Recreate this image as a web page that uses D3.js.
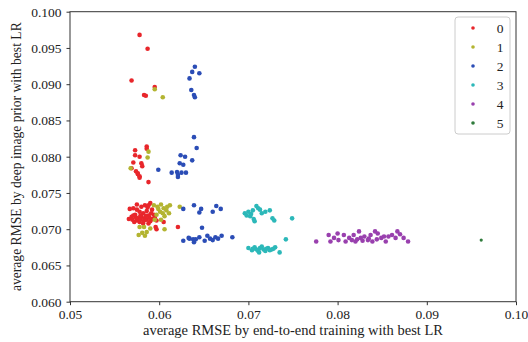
<!DOCTYPE html>
<html>
<head>
<meta charset="utf-8">
<script src="https://cdn.jsdelivr.net/npm/d3@7"></script>
<style>
  body { margin: 0; background: #fff; font-family: 'Liberation Serif', serif; }
  svg { display: block; }
</style>
</head>
<body>
<div id="chart"></div>
<script>
// scatter: RMSE deep image prior vs end-to-end

var xTicks = [0.05, 0.06, 0.07, 0.08, 0.09, 0.10];
var yTicks = [0.060, 0.065, 0.070, 0.075, 0.080, 0.085, 0.090, 0.095, 0.100];
var labels = ["0", "1", "2", "3", "4", "5"];
var colors = ["#e8262b", "#b3b431", "#2b4db6", "#2cb8b9", "#9940ae", "#2f7b3c"];

// group 0
var x0 = [0.0578,0.0587,0.0569,0.0595,0.0583,0.0585,
  0.0586,0.0586,0.0573,0.0573,0.0578,0.0571,0.0580,0.0581,0.0569,0.0574,0.0576,0.0578,0.0576,0.0578,0.0588,
  0.0571,0.0575,0.0580,0.0584,0.0587,0.0590,0.0592,0.0569,0.0573,0.0577,0.0580,0.0584,0.0588,0.0592,0.0595,0.0572,0.0578,0.0582,0.0588,0.0597,
  0.0566,0.0570,0.0575,0.0579,0.0583,0.0586,0.0590,0.0594,0.0582,0.0586,0.0578,0.0574,0.0589,0.0591,0.0567,0.0575,0.0588,0.0597,0.0605,0.0596,0.0621,0.0579,0.0585,0.0571];
var y0 = [0.0968,0.0949,0.0905,0.0896,0.0885,0.0884,
  0.0814,0.0811,0.0809,0.0802,0.0800,0.0792,0.0791,0.0787,0.0784,0.0780,0.0777,0.0773,0.0776,0.0771,0.0765,
  0.0729,0.0727,0.0731,0.0733,0.0730,0.0736,0.0727,0.0717,0.0720,0.0715,0.0717,0.0715,0.0719,0.0714,0.0716,0.0710,0.0710,0.0708,0.0708,0.0700,
  0.0714,0.0713,0.0712,0.0713,0.0712,0.0713,0.0711,0.0720,0.0722,0.0725,0.0724,0.0716,0.0716,0.0722,0.0728,0.0734,0.0733,0.0712,0.0710,0.0703,0.0703,0.0719,0.0718,0.0719];

// group 1
var x1 = [0.0595,0.0604,0.0588,0.0587,0.0568,
  0.0594,0.0598,0.0602,0.0605,0.0601,0.0604,0.0597,0.0606,0.0602,0.0609,0.0612,0.0608,0.0623,0.0595,
  0.0578,0.0583,0.0581,0.0586,0.0590,0.0606,0.0577,0.0584,0.0599,0.0611];
var y1 = [0.0893,0.0882,0.0807,0.0799,0.0784,
  0.0733,0.0731,0.0734,0.0729,0.0724,0.0722,0.0720,0.0718,0.0713,0.0731,0.0733,0.0726,0.0731,0.0713,
  0.0703,0.0703,0.0695,0.0696,0.0701,0.0700,0.0692,0.0691,0.0728,0.0722];

// group 2
var x2 = [0.0640,0.0637,0.0645,0.0634,0.0636,0.0639,0.0640,
  0.0639,0.0642,0.0624,0.0629,0.0637,0.0623,0.0627,0.0599,0.0614,0.0620,0.0625,0.0630,0.0621,0.0621,
  0.0627,0.0639,0.0647,0.0645,0.0664,0.0669,0.0660,0.0648,
  0.0627,0.0634,0.0638,0.0639,0.0641,0.0651,0.0654,0.0657,0.0660,0.0663,0.0666,0.0670,0.0682,0.0633,0.0645];
var y2 = [0.0924,0.0917,0.0915,0.0908,0.0892,0.0885,0.0882,
  0.0827,0.0812,0.0802,0.0800,0.0795,0.0791,0.0789,0.0782,0.0778,0.0779,0.0778,0.0778,0.0772,0.0775,
  0.0728,0.0733,0.0728,0.0723,0.0732,0.0728,0.0724,0.0702,
  0.0684,0.0687,0.0686,0.0682,0.0686,0.0684,0.0691,0.0687,0.0685,0.0689,0.0687,0.0691,0.0689,0.0688,0.0689];

// group 3
var x3 = [0.0696,0.0700,0.0702,0.0705,0.0706,0.0709,0.0713,0.0715,0.0719,0.0724,0.0727,0.0729,0.0749,0.0698,0.0703,0.0711,0.0707,
  0.0700,0.0704,0.0707,0.0711,0.0713,0.0717,0.0719,0.0722,0.0726,0.0730,0.0735,0.0742,0.0709,0.0715,0.0720,0.0724,0.0728,0.0705,0.0712];
var y3 = [0.0722,0.0724,0.0718,0.0726,0.0714,0.0732,0.0727,0.0722,0.0724,0.0726,0.0715,0.0712,0.0715,0.0719,0.0721,0.0729,0.0711,
  0.0674,0.0671,0.0675,0.0670,0.0674,0.0672,0.0670,0.0674,0.0672,0.0675,0.0668,0.0686,0.0672,0.0676,0.0673,0.0671,0.0673,0.0673,0.0668];

// group 4
var x4 = [0.0776,0.0790,0.0792,0.0796,0.0800,0.0801,0.0807,0.0809,0.0813,0.0818,0.0820,0.0824,0.0826,0.0830,0.0834,0.0837,0.0839,
  0.0842,0.0845,0.0849,0.0854,0.0857,0.0861,0.0867,0.0874,0.0879,0.0835,0.0822,0.0844,0.0816,0.0852,0.0828,0.0865,0.0870];
var y4 = [0.0683,0.0692,0.0683,0.0688,0.0694,0.0685,0.0692,0.0683,0.0688,0.0692,0.0683,0.0697,0.0688,0.0690,0.0685,0.0692,0.0683,
  0.0697,0.0694,0.0688,0.0683,0.0690,0.0692,0.0697,0.0688,0.0683,0.0687,0.0686,0.0686,0.0685,0.0690,0.0684,0.0688,0.0693];

// group 5
var x5 = [0.0961];
var y5 = [0.0685];

var xs = [x0, x1, x2, x3, x4, x5];
var ys = [y0, y1, y2, y3, y4, y5];

var width = 528, height = 342;
var margin = {left: 70, right: 12, top: 11.7, bottom: 40.3};
var font = "'Liberation Serif', serif";
var fontSize = "13.5px";

var svg = d3.select("#chart").append("svg")
  .attr("width", width)
  .attr("height", height)
  .attr("font-family", font);

var x = d3.scaleLinear().domain([0.05, 0.10]).range([margin.left, width - margin.right]);
var y = d3.scaleLinear().domain([0.06, 0.10]).range([height - margin.bottom, margin.top]);

// points
xs.forEach(function (arr, k) {
  var pts = arr.map(function (v, i) { return [v, ys[k][i]]; });
  svg.append("g").selectAll("circle").data(pts).enter().append("circle")
    .attr("cx", function (d) { return x(d[0]); })
    .attr("cy", function (d) { return y(d[1]); })
    .attr("r", k == 5 ? 1.6 : 2.3)
    .style("fill", colors[k]);
});

// frame
svg.append("rect")
  .attr("x", x(0.05)).attr("y", y(0.10))
  .attr("width", x(0.10) - x(0.05)).attr("height", y(0.06) - y(0.10))
  .style("fill", "none").style("stroke", "#333").style("stroke-width", 1);

var xAxis = svg.append("g")
  .attr("transform", "translate(0," + y(0.06) + ")")
  .call(d3.axisBottom(x).tickValues(xTicks).tickFormat(d3.format(".2f")).tickSize(3.5).tickPadding(4));
var yAxis = svg.append("g")
  .attr("transform", "translate(" + x(0.05) + ",0)")
  .call(d3.axisLeft(y).tickValues(yTicks).tickFormat(d3.format(".3f")).tickSize(3.5).tickPadding(5));

[xAxis, yAxis].forEach(function (a) {
  a.attr("font-family", font).attr("font-size", fontSize);
  a.select(".domain").remove();
  a.selectAll("line").style("stroke", "#333");
  a.selectAll("text").style("font-family", font).style("font-size", fontSize).style("fill", "#222");
});

svg.append("text")
  .attr("x", (x(0.05) + x(0.10)) / 2)
  .attr("y", 335)
  .attr("text-anchor", "middle")
  .style("font-family", font).style("font-size", "14.5px").style("fill", "#222")
  .text("average RMSE by end-to-end training with best LR");

svg.append("text")
  .attr("transform", "translate(21," + (y(0.06) + y(0.10)) / 2 + ") rotate(-90)")
  .attr("text-anchor", "middle")
  .style("font-family", font).style("font-size", "13.6px").style("fill", "#222")
  .text("average RMSE by deep image prior with best LR");

// legend
var leg = svg.append("g").attr("transform", "translate(455,17)");
leg.append("rect")
  .attr("width", 55).attr("height", 117).attr("rx", 3)
  .style("fill", "#fff").style("stroke", "#ccc").style("stroke-width", 1);
labels.forEach(function (l, i) {
  var yy = 11 + i * 19;
  leg.append("circle").attr("cx", 18).attr("cy", yy).attr("r", 1.8).style("fill", colors[i]);
  leg.append("text").attr("x", 45).attr("y", yy + 4.5)
    .attr("text-anchor", "middle")
    .style("font-family", font).style("font-size", fontSize).style("fill", "#222")
    .text(l);
});
</script>
</body>
</html>
